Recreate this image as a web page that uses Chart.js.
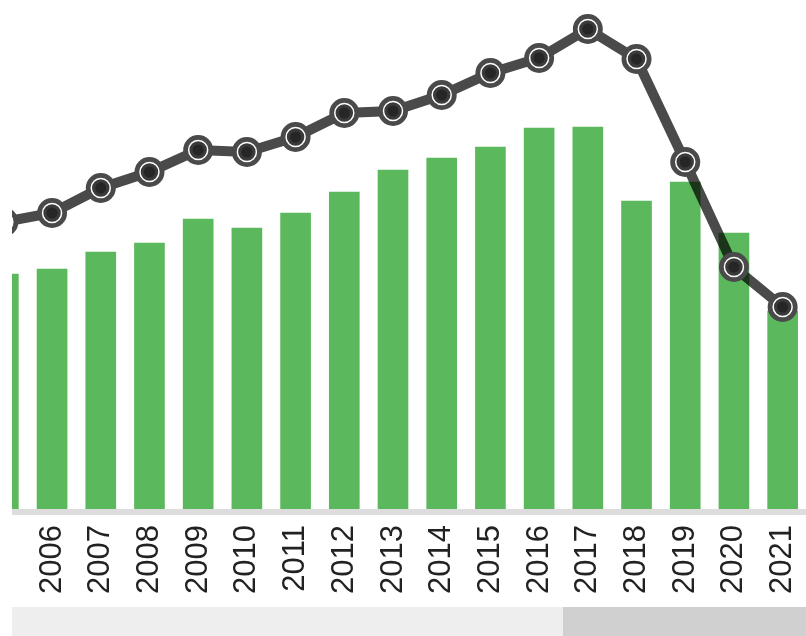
<!DOCTYPE html>
<html>
<head>
<meta charset="utf-8">
<script src="https://cdn.jsdelivr.net/npm/chart.js@4/dist/chart.umd.min.js"></script>
<style>
  html, body { margin: 0; padding: 0; background: #fff; }
  #page { position: relative; width: 806px; height: 636px; overflow: hidden; background: #fff; }
  #clip { position: absolute; left: 12px; top: 0; width: 794px; height: 607px; overflow: hidden; }
  #chart { position: absolute; left: -33px; top: 0; }
  #track { position: absolute; left: 12px; top: 607px; width: 794px; height: 29px; background: #eeeeee; }
  #thumb { position: absolute; left: 551px; top: 0; width: 243px; height: 29px; background: #d0d0d0; }
</style>
</head>
<body>
<div id="page">
  <div id="clip"><canvas id="chart" width="828" height="607"></canvas></div>
  <div id="track"><div id="thumb"></div></div>
</div>
<script>
// Categories (years)
const years = ['2005','2006','2007','2008','2009','2010','2011','2012','2013','2014','2015','2016','2017','2018','2019','2020','2021'];
// Bar series (relative units)
const barValues = [235, 240, 257, 266, 290, 281, 296, 317, 339, 351, 362, 381, 382, 308, 327, 276, 198];
// Line series (relative units)
const lineValues = [287, 296, 321, 337, 359, 357, 372, 396, 398, 414, 436, 451, 480, 450, 347, 242, 202];

const axisBand = {
  id: 'axisBand',
  beforeDatasetsDraw(chart) {
    const { ctx, chartArea } = chart;
    ctx.save();
    ctx.fillStyle = '#dddddd';
    ctx.fillRect(chartArea.left, chartArea.bottom, chartArea.right - chartArea.left, 6);
    ctx.restore();
  }
};

new Chart(document.getElementById('chart'), {
  type: 'bar',
  data: {
    labels: years,
    datasets: [
      {
        type: 'line',
        data: lineValues,
        showLine: false,
        order: -1,
        pointRadius: 9.5,
        pointBorderWidth: 1.5,
        pointBackgroundColor: '#3a3a3a',
        pointBorderColor: '#ffffff',
        pointHoverRadius: 9.5
      },
      {
        type: 'line',
        data: lineValues,
        showLine: false,
        order: -2,
        pointRadius: 5.5,
        pointBorderWidth: 0,
        pointBackgroundColor: '#262626',
        pointHoverRadius: 5.5
      },
      {
        type: 'line',
        data: lineValues,
        order: 0,
        borderColor: 'rgba(0,0,0,0.71)',
        borderWidth: 10,
        tension: 0,
        pointRadius: 15,
        pointBorderWidth: 0,
        pointBackgroundColor: '#4a4a4a',
        pointHoverRadius: 15
      },
      {
        type: 'bar',
        data: barValues,
        order: 1,
        backgroundColor: '#5cb85c',
        borderWidth: 0,
        barThickness: 30
      }
    ]
  },
  options: {
    responsive: false,
    animation: false,
    layout: { padding: 0, autoPadding: false },
    plugins: { legend: { display: false }, tooltip: { enabled: false } },
    scales: {
      x: {
        offset: true,
        grid: { display: false, drawTicks: false },
        border: { display: false },
        ticks: {
          autoSkip: false,
          maxRotation: 90,
          minRotation: 90,
          padding: 16,
          color: '#222222',
          font: { family: '"Liberation Sans", Arial, sans-serif', size: 31 }
        },
        afterFit(scale) {
          scale.height = 98;
          scale.paddingLeft = 0;
          scale.paddingRight = 0;
        }
      },
      y: {
        display: false,
        min: 0,
        max: 509
      }
    }
  },
  plugins: [axisBand]
});
</script>
</body>
</html>
